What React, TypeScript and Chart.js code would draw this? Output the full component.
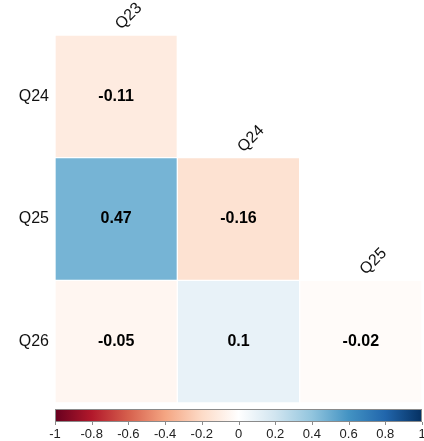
import { useEffect, useRef } from "react";
import { Chart, registerables } from "chart.js";

Chart.register(...registerables);

// Correlation matrix (lower triangle): columns Q23..Q25, rows Q24..Q26
const columnLabels = ["Q23", "Q24", "Q25"];
const rowLabels = ["Q24", "Q25", "Q26"];
const rowQ24: (number | null)[] = [-0.11, null, null];
const rowQ25: (number | null)[] = [0.47, -0.16, null];
const rowQ26: (number | null)[] = [-0.05, 0.1, -0.02];
const colorbarTicks = [-1, -0.8, -0.6, -0.4, -0.2, 0, 0.2, 0.4, 0.6, 0.8, 1];

const rows = [rowQ24, rowQ25, rowQ26];

// Red-blue diverging palette, -1 -> 1
const RDBU = [
  "#67001F", "#B2182B", "#D6604D", "#F4A582", "#FDDBC7", "#FFFFFF",
  "#D1E5F0", "#92C5DE", "#4393C3", "#2166AC", "#053061",
];

const FONT = "Arial, 'Liberation Sans', Helvetica, sans-serif";

function hexToRgb(h: string) {
  const n = parseInt(h.slice(1), 16);
  return [(n >> 16) & 255, (n >> 8) & 255, n & 255];
}

function corrColor(v: number) {
  const t = Math.min(Math.max(((v + 1) / 2) * (RDBU.length - 1), 0), RDBU.length - 1);
  const i = Math.min(Math.floor(t), RDBU.length - 2);
  const f = t - i;
  const a = hexToRgb(RDBU[i]);
  const b = hexToRgb(RDBU[i + 1]);
  const c = a.map((x, k) => Math.round(x + (b[k] - x) * f));
  return `rgb(${c[0]}, ${c[1]}, ${c[2]})`;
}

const nRows = rowLabels.length;

const corrPlugin = {
  id: "corrDecorations",
  afterDraw(chart: any) {
    const { ctx } = chart;
    const x = chart.scales.x;
    const y = chart.scales.y;
    const cb = chart.scales.cbar;
    ctx.save();

    // coefficient labels in each cell
    ctx.font = `bold 16px ${FONT}`;
    ctx.textAlign = "center";
    ctx.textBaseline = "middle";
    ctx.fillStyle = "#000";
    rows.forEach((row, i) =>
      row.forEach((v, j) => {
        if (v == null) return;
        ctx.fillText(String(v), x.getPixelForValue(j), y.getPixelForValue(nRows - 0.5 - i));
      })
    );

    // column names, rotated above the diagonal cells
    ctx.font = `16px ${FONT}`;
    ctx.textAlign = "left";
    ctx.textBaseline = "alphabetic";
    ctx.fillStyle = "#111";
    columnLabels.forEach((lab, j) => {
      const px = x.getPixelForValue(j) + 5;
      const py = y.getPixelForValue(nRows - j) - 5;
      ctx.save();
      ctx.translate(px, py);
      ctx.rotate(-Math.PI / 4);
      ctx.fillText(lab, 0, 0);
      ctx.restore();
    });

    // colour bar
    const x0 = cb.getPixelForValue(-1);
    const x1 = cb.getPixelForValue(1);
    const top = cb.top + 6;
    const h = 13;
    const g = ctx.createLinearGradient(x0, 0, x1, 0);
    RDBU.forEach((c, k) => g.addColorStop(k / (RDBU.length - 1), c));
    ctx.fillStyle = g;
    ctx.fillRect(x0, top, x1 - x0, h);
    ctx.strokeStyle = "#8a8a8a";
    ctx.lineWidth = 1;
    ctx.strokeRect(x0 + 0.5, top + 0.5, x1 - x0 - 1, h - 1);
    colorbarTicks.forEach((v) => {
      const px = Math.round(cb.getPixelForValue(v)) + 0.5;
      ctx.beginPath();
      ctx.moveTo(px, top + h);
      ctx.lineTo(px, top + h + 3);
      ctx.stroke();
    });

    ctx.restore();
  },
};

export default function App() {
  const canvasRef = useRef<HTMLCanvasElement | null>(null);

  useEffect(() => {
    document.body.style.margin = "0";
    const canvas = canvasRef.current;
    if (!canvas) return;

    const datasets = rows.map((row, i) => ({
      label: rowLabels[i],
      data: row.map((v) => (v == null ? null : [nRows - 1 - i, nRows - i])),
      backgroundColor: row.map((v) => (v == null ? "transparent" : corrColor(v))),
      borderColor: "rgba(255,255,255,0.35)",
      borderWidth: 1,
      borderSkipped: false,
      barPercentage: 1,
      categoryPercentage: 1,
      grouped: false,
    }));

    const chart = new Chart(canvas, {
      type: "bar",
      data: { labels: columnLabels, datasets: datasets as any },
      options: {
        responsive: false,
        animation: false,
        devicePixelRatio: 1,
        layout: { padding: { top: 35, right: 2, left: 0, bottom: 0 } },
        plugins: {
          legend: { display: false },
          tooltip: { enabled: false },
        },
        scales: {
          x: {
            type: "category",
            display: false,
          },
          y: {
            type: "linear",
            min: 0,
            max: nRows,
            afterBuildTicks: (axis: any) => {
              axis.ticks = rowLabels.map((_, i) => ({ value: nRows - 0.5 - i }));
            },
            afterFit: (axis: any) => {
              axis.width = 55;
            },
            ticks: {
              callback: (v: any) => rowLabels[Math.round(nRows - 0.5 - Number(v))],
              font: { size: 16, family: FONT },
              color: "#111",
              padding: 6,
            },
            grid: { display: false, drawTicks: false },
            border: { display: false },
          },
          cbar: {
            type: "linear",
            axis: "x",
            position: "bottom",
            offset: false,
            min: -1,
            max: 1,
            afterBuildTicks: (axis: any) => {
              axis.ticks = colorbarTicks.map((v) => ({ value: v }));
            },
            afterFit: (axis: any) => {
              axis.height = 38;
              axis.paddingLeft = 0;
              axis.paddingRight = 0;
            },
            ticks: {
              callback: (v: any) => String(v),
              font: { size: 13, family: FONT },
              color: "#222",
              padding: 0,
              autoSkip: false,
              maxRotation: 0,
            },
            grid: { display: false, offset: false, drawTicks: true, tickLength: 24 },
            border: { display: false },
          },
        } as any,
      },
      plugins: [corrPlugin],
    });

    return () => chart.destroy();
  }, []);

  return (
    <div style={{ width: 424, height: 441, overflow: "hidden" }}>
      <canvas ref={canvasRef} width={424} height={441} />
    </div>
  );
}
